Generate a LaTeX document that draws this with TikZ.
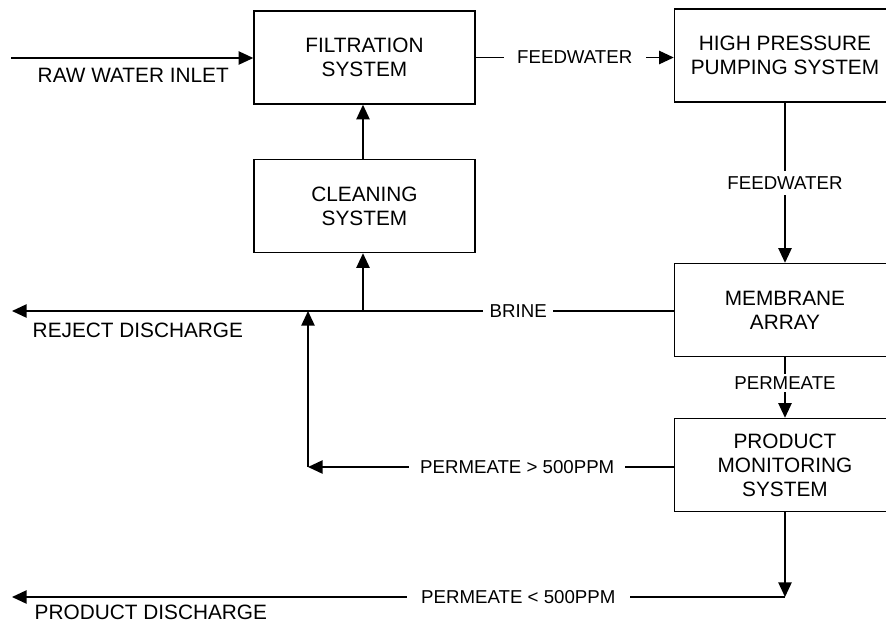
\documentclass[tikz,border=0pt]{standalone}
\usepackage{fontspec}
\setmainfont{Liberation Sans}
\usetikzlibrary{arrows.meta, positioning}

\begin{document}
\begin{tikzpicture}
  [
    x = 0.75pt, y = -0.75pt,
    line width = 1.1pt,
    > = {Triangle[length=11pt, width=10pt]},
    box/.style = {draw, minimum width=165.75pt, minimum height=69.75pt,
                  align=center, inner sep=0pt,
                  font=\fontsize{15.6}{18}\selectfont},
    flowlabel/.style = {fill=white, inner xsep=5pt, inner ysep=4pt,
                        font=\fontsize{14}{16}\selectfont},
    outlabel/.style = {anchor=base west, inner sep=0pt,
                       font=\fontsize{15.6}{18}\selectfont}
  ]
  \clip (0,0) rectangle (886,622);

  % process boxes
  \node (Filter)   [box] at (364.5,57.5) {FILTRATION\\SYSTEM};
  \node (Clean)    [box] at (364.5,206)  {CLEANING\\SYSTEM};
  \node (Pump)     [box] at (785,55.5)   {HIGH PRESSURE\\PUMPING SYSTEM};
  \node (Membrane) [box] at (785,310)    {MEMBRANE\\ARRAY};
  \node (Monitor)  [box] at (785,465)    {PRODUCT\\MONITORING\\SYSTEM};

  % free ends and corners
  \coordinate (Inlet)    at (11,58);
  \coordinate (Reject)   at (12,311);
  \coordinate (Outlet)   at (12,597);
  \coordinate (BrineTap) at (363,311);
  \coordinate (Return)   at (308,467);
  \coordinate (Merge)    at (308,311);
  \coordinate (Drop)     at (785,597);

  \draw [->] (Inlet) -- (Inlet -| Filter.west);
  \draw [->] (Filter.east) -- node [flowlabel, inner xsep=10pt] {FEEDWATER}
    (Filter.east -| Pump.west);
  \draw [->] (Pump.south) -- node [flowlabel] {FEEDWATER} (Membrane.north);
  \draw [->] (Membrane.south) -- node [flowlabel, pos=0.42, inner ysep=2pt] {PERMEATE}
    (Monitor.north);
  \draw [->] (Membrane.west |- Reject) -- node [flowlabel, pos=0.235] {BRINE} (Reject);
  \draw [->] (BrineTap) -- (BrineTap |- Clean.south);
  \draw [->] (Clean.north -| BrineTap) -- (Filter.south -| BrineTap);
  \draw [->] (Monitor.west |- Return) -- node [flowlabel, pos=0.428, inner xsep=8pt]
    {PERMEATE > 500PPM} (Return);
  \draw [->] (Return) -- (Merge);
  \draw [->] (Monitor.south) -- (Drop);
  \draw [->] (Drop) -- node [flowlabel, pos=0.345, inner xsep=11pt]
    {PERMEATE < 500PPM} (Outlet);

  % outside labels
  \node (InletText)  [outlabel] at (37,82)  {RAW WATER INLET};
  \node (RejectText) [outlabel] at (32,337) {REJECT DISCHARGE};
  \node (OutletText) [outlabel] at (34,619) {PRODUCT DISCHARGE};
\end{tikzpicture}
\end{document}
